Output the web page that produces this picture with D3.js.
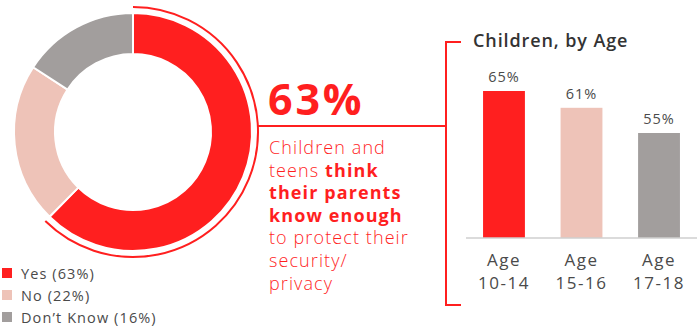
<!DOCTYPE html>
<html>
<head>
<meta charset="utf-8">
<script src="https://cdn.jsdelivr.net/npm/d3@7"></script>
<style>
  html, body { margin: 0; padding: 0; background: #fff; }
  svg { display: block; font-family: "Open Sans", "Noto Sans", sans-serif; }
</style>
</head>
<body>
<div id="chart"></div>
<script>
// answer shares (donut)
const shareLabels = ["Yes", "No", "Don’t Know"];
const shareValues = [63, 22, 16];
const shareColors = ["#FF1F1F", "#EEC3B8", "#A29E9D"];

// by age (bars)
const ageLabels = ["Age 10-14", "Age 15-16", "Age 17-18"];
const ageValues = [65, 61, 55];

const headline = "63%";
// callout text, one entry per line, [text, bold]
const calloutLines = [
  [["Children and", false]],
  [["teens ", false], ["think", true]],
  [["their parents", true]],
  [["know enough", true]],
  [["to protect their", false]],
  [["security/", false]],
  [["privacy", false]]
];
const barTitle = "Children, by Age";

const width = 699, height = 328;
const red = "#FF1F1F", textGrey = "#4a4a4a";

const svg = d3.select("#chart").append("svg")
    .attr("width", width)
    .attr("height", height);

// ---- donut
const cx = 133, cy = 132;
const pie = d3.pie().sort(null).value(d => d);
const arcs = pie(shareValues);
const arc = d3.arc().innerRadius(78).outerRadius(119);

const donut = svg.append("g").attr("transform", `translate(${cx},${cy})`);
donut.selectAll("path.slice")
  .data(arcs)
  .join("path")
    .attr("class", "slice")
    .attr("d", arc)
    .attr("fill", (d, i) => shareColors[i])
    .attr("stroke", "#fff")
    .attr("stroke-width", 2);

// highlight ring around the "Yes" slice
const ringR = 125;
donut.append("path")
    .attr("d", d3.arc().innerRadius(ringR).outerRadius(ringR)
      .startAngle(arcs[0].startAngle).endAngle(arcs[0].endAngle)())
    .attr("fill", "none")
    .attr("stroke", red)
    .attr("stroke-width", 2);

// legend
const legend = svg.append("g").attr("transform", "translate(2,268)");
const legendItem = legend.selectAll("g")
  .data(shareLabels)
  .join("g")
    .attr("transform", (d, i) => `translate(0,${i * 22})`);
legendItem.append("rect")
    .attr("width", 10)
    .attr("height", 10)
    .attr("fill", (d, i) => shareColors[i]);
legendItem.append("text")
    .attr("x", 19)
    .attr("y", 10.5)
    .attr("fill", textGrey)
    .style("font-size", "14.5px")
    .style("letter-spacing", "1.1px")
    .text((d, i) => `${d} (${shareValues[i]}%)`);

// ---- connector and bracket
const lineY = 126;
const bracketX = 446;
svg.append("line")
    .attr("x1", cx + Math.sqrt(ringR * ringR - (cy - lineY) ** 2))
    .attr("x2", bracketX)
    .attr("y1", lineY)
    .attr("y2", lineY)
    .attr("stroke", red)
    .attr("stroke-width", 2);

svg.append("path")
    .attr("d", `M461,42 H${bracketX} V305 H461`)
    .attr("fill", "none")
    .attr("stroke", red)
    .attr("stroke-width", 2);

// ---- callout text
svg.append("text")
    .attr("x", 268)
    .attr("y", 115)
    .attr("fill", red)
    .style("font-size", "43px")
    .style("font-weight", 700)
    .style("letter-spacing", "2.8px")
    .text(headline);

const callout = svg.append("text")
    .attr("fill", red)
    .style("font-size", "18px")
    .style("letter-spacing", "1.1px");
calloutLines.forEach((line, i) => {
  line.forEach(([t, bold], j) => {
    const ts = callout.append("tspan")
        .style("font-weight", bold ? 700 : 300)
        .text(t);
    if (j === 0) ts.attr("x", 269).attr("y", 154 + i * 22.6);
  });
});

// ---- bar chart
const x = d3.scaleBand()
    .domain(ageLabels)
    .range([466, 697])
    .paddingInner(0.46)
    .paddingOuter(0.22);
const y = d3.scaleLinear()
    .domain([30, 70])
    .range([238, 70]);

svg.append("text")
    .attr("x", 473)
    .attr("y", 47)
    .attr("fill", "#333")
    .style("font-size", "18px")
    .style("font-weight", 600)
    .style("letter-spacing", "0.9px")
    .text(barTitle);

svg.append("g")
  .selectAll("rect")
  .data(ageValues)
  .join("rect")
    .attr("x", (d, i) => x(ageLabels[i]))
    .attr("width", x.bandwidth())
    .attr("y", d => y(d))
    .attr("height", d => y(30) - y(d))
    .attr("fill", (d, i) => shareColors[i]);

svg.append("g")
  .selectAll("text")
  .data(ageValues)
  .join("text")
    .attr("x", (d, i) => x(ageLabels[i]) + x.bandwidth() / 2)
    .attr("y", d => y(d) - 9)
    .attr("text-anchor", "middle")
    .attr("fill", textGrey)
    .style("font-size", "14.5px")
    .style("letter-spacing", "1px")
    .text(d => d + "%");

// x axis
const xAxis = svg.append("g")
    .attr("transform", `translate(0,${y(30)})`)
    .call(d3.axisBottom(x).tickSize(0).tickFormat(""));
xAxis.select(".domain")
    .attr("d", "M466,0H697")
    .attr("stroke", "#cfcfcf")
    .attr("stroke-width", 1.5);

// two-line tick labels, one text per line
const xLabelLines = svg.append("g");
ageLabels.forEach(d => {
  d.split(" ").forEach((p, k) => {
    xLabelLines.append("text")
        .attr("x", x(d) + x.bandwidth() / 2)
        .attr("y", 266 + k * 22.5)
        .attr("text-anchor", "middle")
        .attr("fill", textGrey)
        .style("font-size", "17px")
        .style("letter-spacing", "1.5px")
        .text(p);
  });
});
</script>
</body>
</html>
